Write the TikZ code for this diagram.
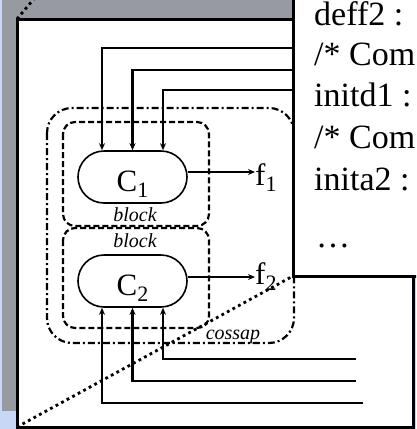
\documentclass[tikz,border=0pt]{standalone}
\usepackage{fontspec}
\setmainfont{Liberation Serif}
\usetikzlibrary{arrows.meta,shapes.misc}

\definecolor{slideblue}{RGB}{200,215,245}
\definecolor{slidegray}{RGB}{152,154,162}

\newcommand{\bigfont}{\fontsize{31}{31}\selectfont}
\newcommand{\lowidx}[1]{\raisebox{-6pt}{\fontsize{22}{22}\selectfont #1}}

\begin{document}
\begin{tikzpicture}[x=1pt, y=-1pt, >={Stealth[length=7pt,width=6pt]},
  comp/.style={draw, rounded rectangle, line width=1.6pt, minimum width=109pt,
    minimum height=52pt, inner sep=0pt, text height=28pt, text depth=0pt, font=\bigfont},
  outlbl/.style={anchor=base west, inner sep=0pt, font=\bigfont},
  sig/.style={->, line width=2.2pt},
  blockbox/.style={line width=2.2pt, dash pattern=on 6pt off 3pt, rounded corners=12pt},
  cossapbox/.style={line width=2.2pt, dash pattern=on 7pt off 3pt on 2pt off 3pt, rounded corners=25pt},
  tag/.style={anchor=base, inner sep=0pt, font=\fontsize{20}{20}\selectfont\itshape},
  zoomline/.style={line width=2.8pt, dash pattern=on 2.8pt off 3.5pt},
  codeline/.style={anchor=base west, inner sep=0pt, font=\fontsize{34}{34}\selectfont}]

\useasboundingbox (0,0) rectangle (416,429);
\clip (0,0) rectangle (416,429);

% Slide background and frame
\fill[slideblue] (0,0) rectangle (416,429);
\fill[slidegray] (2,0) rectangle (300,411);
\draw[line width=3pt, fill=white] (17,19) rectangle (413,427);

% Containers
\draw[cossapbox] (47,108) rectangle (294,343);
\draw[blockbox] (63,122) rectangle (209,226);
\draw[blockbox] (63,228) rectangle (209,328);

% Define the nodes with coordinates
\node[comp] (C1) at (132.5,177) {C\lowidx{1}};
\node[comp] (C2) at (132.5,281) {C\lowidx{2}};
\node[outlbl] (f1) at (255,185) {f\lowidx{1}};
\node[outlbl] (f2) at (255,284) {f\lowidx{2}};

\node[tag] (b1) at (135,221) {block};
\node[tag] (b2) at (135,247) {block};
\node[tag] (cs) at (233,339) {cossap};

% Free ends of the input signals
\coordinate (inA) at (300,48);
\coordinate (inB) at (300,70);
\coordinate (inC) at (300,90);
\coordinate (inD) at (356,359);
\coordinate (inE) at (356,381);
\coordinate (inF) at (363,403);

% Draw the signals
\draw[sig] (inA) -| ([xshift=-30.5pt]C1.north);
\draw[sig] (inB) -| (C1.north);
\draw[sig] (inC) -| ([xshift=30.5pt]C1.north);
\draw[sig] (inD) -| ([xshift=30.5pt]C2.south);
\draw[sig] (inE) -| (C2.south);
\draw[sig] (inF) -| ([xshift=-30.5pt]C2.south);
\draw[sig] ([yshift=5pt]C1.east) -- ([yshift=5pt]C1.east -| f1.west);
\draw[sig] ([yshift=4pt]C2.east) -- ([yshift=4pt]C2.east -| f2.west);

% Zoom lines
\coordinate (zTL) at (17,19);
\coordinate (zBL) at (17,427);
\coordinate (zEnd) at (293,276);
\draw[zoomline] (zTL) -- (37.2,-5);
\draw[zoomline] (zBL) -- (zEnd);

% Code box
\draw[line width=3pt, fill=white] (293,-5) rectangle (425,276);
\node[codeline] (l1) at (314,25) {deff2 :};
\node[codeline] (l2) at (314,65) {/* Com};
\node[codeline] (l3) at (314,106) {initd1 :};
\node[codeline] (l4) at (314,148) {/* Com};
\node[codeline] (l5) at (314,190) {inita2 :};
\node[codeline] (l6) at (316,247) {…};

\end{tikzpicture}
\end{document}
